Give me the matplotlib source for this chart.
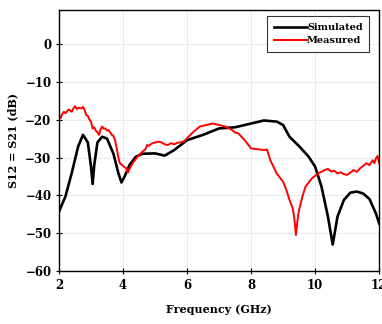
import matplotlib
matplotlib.use("Agg")
import matplotlib.pyplot as plt

sim_f = [2.0, 2.2, 2.4, 2.6, 2.75, 2.9, 3.0, 3.05, 3.1, 3.2, 3.35, 3.5, 3.7, 3.85, 3.95, 4.05,
         4.2, 4.4, 4.6, 5.0, 5.3, 5.6, 6.0, 6.5, 7.0, 7.5, 8.0, 8.4, 8.8, 9.0, 9.2, 9.5, 9.8,
         10.0, 10.2, 10.4, 10.55, 10.7, 10.9, 11.1, 11.3, 11.5, 11.7, 11.9, 12.0]
sim_db = [-44.3, -40.3, -34.0, -27.0, -24.0, -26.0, -32.4, -37.0, -32.0, -26.0, -24.5, -25.0,
          -29.0, -34.0, -36.6, -35.0, -32.0, -29.8, -29.0, -28.9, -29.5, -28.0, -25.4, -24.0,
          -22.3, -22.0, -21.0, -20.2, -20.5, -21.4, -24.5, -27.0, -29.8, -32.4, -37.7, -45.6,
          -53.0, -45.6, -41.2, -39.3, -39.0, -39.5, -41.0, -44.8, -47.4]

meas_f = [2.0, 2.05, 2.1, 2.15, 2.2, 2.3, 2.4, 2.45, 2.5, 2.55, 2.6, 2.7, 2.75, 2.8, 2.85, 2.9,
          2.95, 3.0, 3.05, 3.1, 3.15, 3.2, 3.25, 3.3, 3.35, 3.4, 3.45, 3.5, 3.55, 3.6, 3.65,
          3.7, 3.75, 3.8, 3.85, 3.9, 4.0, 4.1, 4.15, 4.2, 4.3, 4.45, 4.6, 4.7, 4.75, 4.8, 4.9,
          5.0, 5.1, 5.2, 5.3, 5.4, 5.5, 5.6, 5.7, 5.8, 5.9, 6.0, 6.2, 6.4, 6.6, 6.8, 7.0, 7.2,
          7.4, 7.5, 7.6, 7.8, 8.0, 8.2, 8.4, 8.5, 8.6, 8.8, 9.0, 9.1, 9.2, 9.3, 9.35, 9.4, 9.45,
          9.5, 9.6, 9.7, 9.9, 10.1, 10.3, 10.4, 10.5, 10.6, 10.7, 10.8, 10.9, 11.0, 11.1, 11.2,
          11.3, 11.4, 11.5, 11.6, 11.7, 11.8, 11.85, 11.9, 11.95, 12.0]
meas_db = [-18.8, -19.6, -18.5, -17.9, -18.3, -17.3, -17.9, -17.0, -16.4, -17.2, -16.8, -17.0,
           -16.6, -17.4, -18.8, -19.0, -20.0, -20.5, -22.3, -22.0, -22.9, -23.3, -24.0, -22.5,
           -21.8, -22.4, -22.3, -22.9, -22.7, -23.4, -24.0, -24.3, -25.4, -27.5, -29.8, -31.5,
           -32.2, -32.9, -34.0, -33.0, -31.5, -29.8, -28.5, -27.8, -26.7, -26.9, -26.3, -26.0,
           -25.8, -26.0, -26.5, -26.7, -26.2, -26.5, -26.1, -26.0, -25.7, -24.9, -23.2, -21.8,
           -21.4, -21.0, -21.4, -21.8, -22.7, -23.4, -23.6, -25.4, -27.6, -27.8, -28.0, -27.9,
           -30.7, -34.2, -36.4, -38.5, -41.2, -43.4, -46.0, -50.5, -46.5, -43.8, -40.4, -37.7,
           -35.5, -34.2, -33.3, -33.0, -33.7, -33.5, -34.2, -33.9, -34.4, -34.6, -34.0, -33.3,
           -33.8, -32.9, -32.2, -31.5, -32.0, -30.7, -31.5, -30.2, -29.6, -31.5]

x_ticks = [2, 4, 6, 8, 10, 12]
y_ticks = [-60, -50, -40, -30, -20, -10, 0]

plt.rcParams['font.family'] = ['DejaVu Serif']
fig = plt.figure(figsize=(3.82, 3.24), dpi=100)
ax = fig.add_axes([0.1545, 0.1636, 0.838, 0.8054])

ax.plot(sim_f, sim_db, color='black', lw=1.9, label='Simulated')
ax.plot(meas_f, meas_db, color='#ff0000', lw=1.4, label='Measured')

ax.set_xlim(2, 12)
ax.set_ylim(-60, 9)
ax.set_xticks(x_ticks)
ax.set_yticks(y_ticks)
ax.grid(True, color='#e8e8e8', lw=0.6)
ax.tick_params(labelsize=8.5, length=4, width=0.8, direction='inout')
for lab in ax.get_xticklabels() + ax.get_yticklabels():
    lab.set_fontweight('bold')
for s in ax.spines.values():
    s.set_linewidth(1.0)

ax.set_xlabel('Frequency (GHz)', fontsize=8, fontweight='bold', labelpad=9)
ax.set_ylabel('S12 = S21 (dB)', fontsize=8, fontweight='bold', labelpad=5)

leg = ax.legend(loc='upper right', fontsize=7, frameon=True, fancybox=False,
                handlelength=3.4, handletextpad=0.0, borderpad=0.7,
                labelspacing=0.45, bbox_to_anchor=(0.985, 0.995))
leg.get_frame().set_edgecolor('black')
leg.get_frame().set_linewidth(0.8)
for t in leg.get_texts():
    t.set_fontweight('bold')

fig.savefig('out.png', dpi=100)
